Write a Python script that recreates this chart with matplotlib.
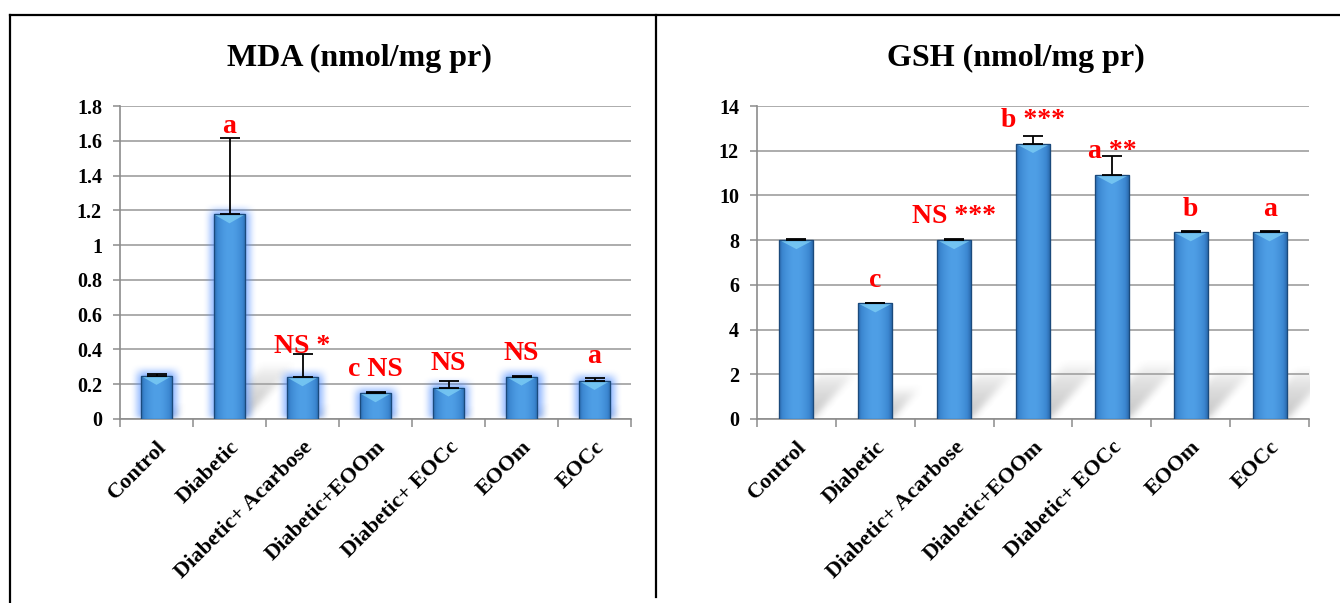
import numpy as np
import matplotlib.pyplot as plt
from matplotlib.patches import Polygon, Rectangle
from matplotlib.lines import Line2D
from matplotlib.colors import LinearSegmentedColormap

plt.rcParams['font.family'] = ['Liberation Serif', 'DejaVu Serif']
plt.rcParams['font.weight'] = 'bold'

groups = ['Control', 'Diabetic', 'Diabetic+ Acarbose', 'Diabetic+EOOm',
          'Diabetic+ EOCc', 'EOOm', 'EOCc']

# MDA panel
mda_mean = [0.248, 1.177, 0.240, 0.148, 0.181, 0.244, 0.219]
mda_err = [0.010, 0.439, 0.133, 0.006, 0.040, 0.006, 0.014]
mda_marks = ['', 'a', 'NS *', 'c NS', 'NS', 'NS', 'a']
mda_mark_y = [0, 1.645, 0.381, 0.248, 0.283, 0.340, 0.323]
mda_ticks = [0, 0.2, 0.4, 0.6, 0.8, 1, 1.2, 1.4, 1.6, 1.8]
mda_ticklabels = ['0', '0.2', '0.4', '0.6', '0.8', '1', '1.2', '1.4', '1.6', '1.8']

# GSH panel
gsh_mean = [8.00, 5.17, 8.00, 12.30, 10.91, 8.35, 8.35]
gsh_err = [0.05, 0.04, 0.04, 0.36, 0.84, 0.04, 0.04]
gsh_marks = ['', 'c', 'NS ***', 'b ***', 'a **', 'b', 'a']
gsh_mark_y = [0, 5.9, 8.77, 13.06, 11.67, 9.08, 9.08]
gsh_ticks = [0, 2, 4, 6, 8, 10, 12, 14]
gsh_ticklabels = ['0', '2', '4', '6', '8', '10', '12', '14']

W, H = 1340, 603
fig = plt.figure(figsize=(W / 100, H / 100), dpi=100)

bar_cmap = LinearSegmentedColormap.from_list('bar', ['#1f5794', '#3b86d0', '#4f9fe6'])
grad = np.sin(np.linspace(0.15, np.pi - 0.15, 60)) ** 0.8
grad = grad.reshape(1, -1)


def box_blur(a, r):
    k = np.ones(2 * r + 1) / (2 * r + 1)
    a = np.apply_along_axis(lambda v: np.convolve(v, k, mode='same'), 0, a)
    return np.apply_along_axis(lambda v: np.convolve(v, k, mode='same'), 1, a)


def draw_shadow(ax, x0, w, h, xpx, ypx):
    sh = min(0.26 * h * ypx, 55)
    sh_dx = 0.9 * sh
    bw = w * xpx
    pad = 10
    nx, ny = int(bw + sh_dx + 2 * pad), int(sh + pad)
    X, Y = np.meshgrid(np.arange(nx) - pad, np.arange(ny))
    shift = X - Y * sh_dx / max(sh, 1)
    mask = ((shift >= 0) & (shift <= bw) & (Y <= sh)).astype(float)
    mask *= np.clip(1 - Y / max(sh, 1), 0, 1) ** 0.6
    mask = box_blur(mask, 5)
    rgba = np.zeros((ny, nx, 4))
    rgba[..., :3] = 0.5
    rgba[..., 3] = 0.45 * mask
    ax.imshow(rgba, extent=[x0 - pad / xpx, x0 + (nx - pad) / xpx, 0, ny / ypx],
              origin='lower', aspect='auto', zorder=0.4, interpolation='bilinear')


def draw_glow(ax, x0, w, h, xpx, ypx):
    pad = 14
    bw, bh = w * xpx, h * ypx
    nx, ny = int(bw + 2 * pad), int(bh + pad)
    X, Y = np.meshgrid(np.arange(nx) - pad, np.arange(ny))
    mask = ((X >= -3) & (X <= bw + 3) & (Y <= bh + 3)).astype(float)
    mask = box_blur(mask, 5)
    mask = box_blur(mask, 3)
    rgba = np.zeros((ny, nx, 4))
    rgba[..., 0], rgba[..., 1], rgba[..., 2] = 0.30, 0.55, 1.0
    rgba[..., 3] = 0.75 * mask
    ax.imshow(rgba, extent=[x0 - pad / xpx, x0 + (nx - pad) / xpx, 0, ny / ypx],
              origin='lower', aspect='auto', zorder=2, interpolation='bilinear')


def draw_panel(ax, means, errs, marks, mark_y, ticks, ticklabels, glow):
    n = len(means)
    ax.set_xlim(-0.5, n - 0.5)
    ax.set_ylim(ticks[0], ticks[-1])
    pos = ax.get_position()
    xpx = pos.width * W / n
    ypx = pos.height * H / (ticks[-1] - ticks[0])

    bars = ax.bar(range(n), means, width=0.43, color='#3a84cf',
                  edgecolor='#1b4a7c', linewidth=0.8, zorder=3)
    ax.errorbar(range(n), means, yerr=[np.zeros(n), errs], fmt='none',
                ecolor='black', elinewidth=1.3, capsize=7, capthick=1.3, zorder=5)

    for rect in bars:
        x0, w, h = rect.get_x(), rect.get_width(), rect.get_height()
        draw_shadow(ax, x0, w, h, xpx, ypx)
        if glow:
            draw_glow(ax, x0, w, h, xpx, ypx)
        im = ax.imshow(grad, extent=[x0, x0 + w, 0, h], cmap=bar_cmap, vmin=0, vmax=1,
                       aspect='auto', zorder=3.1, interpolation='bilinear')
        im.set_clip_path(rect)
        th = 9 / ypx
        ax.add_patch(Polygon([(x0, h), (x0 + w, h), (x0 + w / 2, h - th)],
                             facecolor='#7fd0f6', alpha=0.75, edgecolor='none', zorder=3.2))
        ax.add_patch(Rectangle((x0, 0), w, h, facecolor='none',
                               edgecolor='#1b4a7c', linewidth=0.9, zorder=3.3))

    for i, (m, y) in enumerate(zip(marks, mark_y)):
        if m:
            ax.text(i, y, m, ha='center', va='baseline', color='#ff0000',
                    fontsize=20, fontweight='bold', zorder=6)

    ax.set_xlim(-0.5, n - 0.5)
    ax.set_ylim(ticks[0], ticks[-1])
    ax.set_axisbelow(True)
    ax.yaxis.grid(True, color='#a6a6a6', linewidth=1.3, zorder=0.5)
    for s in ['top', 'right']:
        ax.spines[s].set_visible(False)
    for s in ['left', 'bottom']:
        ax.spines[s].set_color('#8c8c8c')
        ax.spines[s].set_linewidth(1.2)
    ax.set_yticks(ticks)
    ax.set_yticklabels(ticklabels, fontsize=14.5, fontweight='bold')
    ax.tick_params(axis='y', length=5, color='#8c8c8c', width=1.1, pad=8)
    ax.set_xticks(range(n))
    ax.set_xticklabels(groups, rotation=45, ha='right', rotation_mode='anchor',
                       fontsize=16, fontweight='bold')
    ax.set_xticks(np.arange(-0.5, n, 1), minor=True)
    ax.tick_params(axis='x', which='major', length=0, pad=13)
    ax.tick_params(axis='x', which='minor', length=6, color='#8c8c8c', width=1.1)


ax1 = fig.add_axes([120 / W, 1 - 419 / H, 511 / W, 313 / H])
draw_panel(ax1, mda_mean, mda_err, mda_marks, mda_mark_y, mda_ticks, mda_ticklabels, True)
ax2 = fig.add_axes([757 / W, 1 - 419 / H, 552 / W, 313 / H])
draw_panel(ax2, gsh_mean, gsh_err, gsh_marks, gsh_mark_y, gsh_ticks, gsh_ticklabels, False)

fig.text(359 / W, 1 - 58 / H, 'MDA (nmol/mg pr)', ha='center', va='center',
         fontsize=23, fontweight='bold')
fig.text(1016 / W, 1 - 58 / H, 'GSH (nmol/mg pr)', ha='center', va='center',
         fontsize=23, fontweight='bold')

# panel frame lines
fig.add_artist(Line2D([10 / W, 1], [1 - 15 / H, 1 - 15 / H], color='black', linewidth=1.6))
fig.add_artist(Line2D([10 / W, 10 / W], [0, 1 - 15 / H], color='black', linewidth=1.6))
fig.add_artist(Line2D([656 / W, 656 / W], [6 / H, 1 - 15 / H], color='black', linewidth=1.6))

fig.savefig('out.png', dpi=100)
